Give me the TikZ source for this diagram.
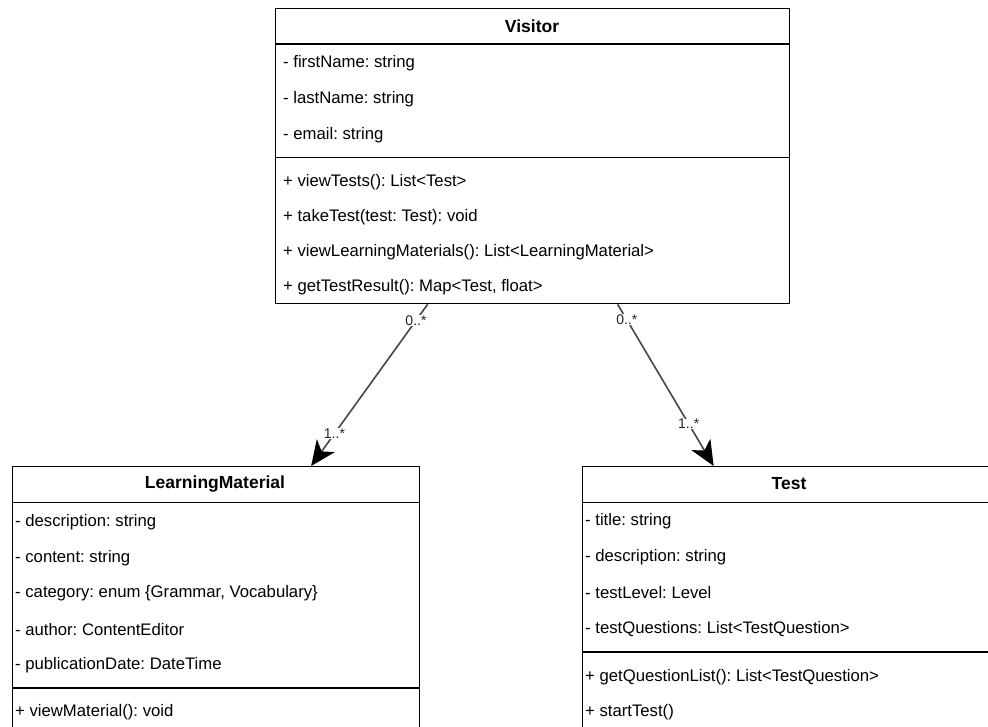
\documentclass[tikz,border=0pt]{standalone}
\usepackage{fontspec}
\setmainfont{Liberation Sans}
\usetikzlibrary{arrows.meta}
\frenchspacing
\begin{document}
\begin{tikzpicture}[x=1pt,y=-1pt,
  classbox/.style={draw=black, line width=1.3pt, fill=white, inner sep=0pt, anchor=north west},
  sepline/.style={draw=black, line width=1.3pt},
  title/.style={font=\fontsize{17.5}{20}\selectfont\bfseries, inner sep=0pt},
  member/.style={font=\fontsize{16.7}{19}\selectfont, anchor=west, inner sep=0pt},
  mult/.style={font=\fontsize{14}{16}\selectfont, fill=white, inner sep=0.5pt, text=black!85},
  assoc/.style={draw=black!72, line width=1.6pt, -{Stealth[length=25pt,width=22pt,inset=7pt,color=black,fill=black]}}
]
\useasboundingbox (0,0) rectangle (988,726);
\clip (0,0) rectangle (988,726);
\fill[white] (0,0) rectangle (988,726);

% ---------- Visitor ----------
\node[classbox, minimum width=514pt, minimum height=295pt] (visitor) at (275,8) {};
\draw[sepline] (275,44) -- (789,44);
\draw[sepline] (275,157.5) -- (789,157.5);
\node[title] (vtitle) at (532,26) {Visitor};
\node[member] (va1) at (283,63) {- firstName: string};
\node[member] (va2) at (283,99) {- lastName: string};
\node[member] (va3) at (283,135) {- email: string};
\node[member] (vm1) at (283,182) {+ viewTests(): List<Test>};
\node[member] (vm2) at (283,217) {+ takeTest(test: Test): void};
\node[member] (vm3) at (283,252) {+ viewLearningMaterials(): List<LearningMaterial>};
\node[member] (vm4) at (283,287) {+ getTestResult(): Map<Test, float>};

% ---------- LearningMaterial ----------
\node[classbox, minimum width=407pt, minimum height=300pt] (lm) at (12,466) {};
\draw[sepline] (12,502.5) -- (419,502.5);
\draw[sepline] (12,688) -- (419,688);
\node[title] (lmtitle) at (215,484) {LearningMaterial};
\node[member] (la1) at (15,522) {- description: string};
\node[member] (la2) at (15,558) {- content: string};
\node[member] (la3) at (15,593) {- category: enum \{Grammar, Vocabulary\}};
\node[member] (la4) at (15,630) {- author: ContentEditor};
\node[member] (la5) at (15,665) {- publicationDate: DateTime};
\node[member] (lm1) at (15,712) {+ viewMaterial(): void};

% ---------- Test ----------
\node[classbox, minimum width=414pt, minimum height=300pt] (test) at (582,466) {};
\draw[sepline] (582,502.5) -- (1000,502.5);
\draw[sepline] (582,652) -- (1000,652);
\node[title] (ttitle) at (789,484) {Test};
\node[member] (ta1) at (585,521) {- title: string};
\node[member] (ta2) at (585,557) {- description: string};
\node[member] (ta3) at (585,593) {- testLevel: Level};
\node[member] (ta4) at (585,629) {- testQuestions: List<TestQuestion>};
\node[member] (tm1) at (585,677) {+ getQuestionList(): List<TestQuestion>};
\node[member] (tm2) at (585,712) {+ startTest()};

% ---------- Associations ----------
\draw[assoc] ([xshift=-105pt]visitor.south) -- ([xshift=95pt]lm.north)
  node[mult, pos=0.1] (m1a) {0..*}
  node[mult, pos=0.8] (m1b) {1..*};
\draw[assoc] ([xshift=85pt]visitor.south) -- ([xshift=-76pt]test.north)
  node[mult, pos=0.095] (m2a) {0..*}
  node[mult, pos=0.74] (m2b) {1..*};
\end{tikzpicture}
\end{document}
